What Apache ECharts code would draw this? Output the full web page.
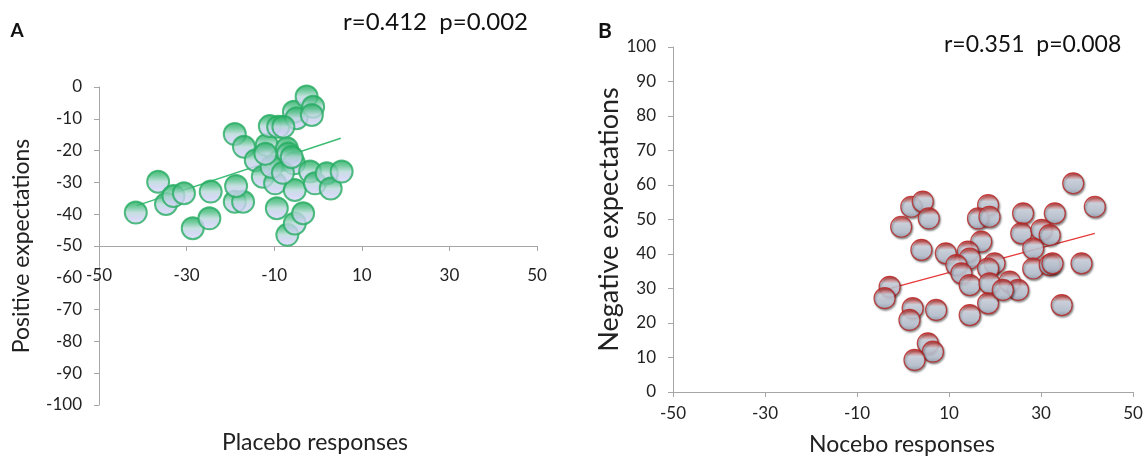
<!DOCTYPE html>
<html>
<head>
<meta charset="utf-8">
<script src="https://cdn.jsdelivr.net/npm/echarts@6/dist/echarts.min.js"></script>
<style>
html,body{margin:0;padding:0;background:#fff;}
#chart{width:1146px;height:462px;}
</style>
</head>
<body>
<div id="chart"></div>
<script>
// Panel A: placebo responses vs positive expectations
const placeboX = [-41.6,-36.5,-34.7,-33.0,-30.6,-28.6,-24.8,-24.5,-19.0,-17.1,-18.7,-19.0,-16.9,-14.2,-12.6,-11.7,-11.0,-9.1,-9.8,-9.4,-8.7,-7.1,-6.8,-5.5,-5.3,-7.0,-5.3,-3.4,-5.5,-4.9,-2.6,-1.1,-1.4,-1.8,-0.7,2.0,2.9,5.4,-10.6,-7.9,-12.0,-8.0,-6.0];
const positiveExp = [-39.5,-29.8,-36.8,-34.3,-33.4,-44.4,-41.3,-32.9,-36.1,-36.1,-31.1,-14.8,-18.8,-23.0,-28.2,-18.2,-12.3,-12.5,-30.3,-38.1,-23.0,-19.3,-20.9,-24.0,-32.4,-46.5,-42.9,-39.7,-7.8,-9.8,-3.0,-6.2,-8.8,-26.6,-30.3,-27.1,-31.9,-26.6,-25.1,-12.5,-21.0,-27.0,-22.0];
const fitAX = [-41.4, 5.2];
const fitAY = [-37.3, -16.1];

// Panel B: nocebo responses vs negative expectations
const noceboX = [37.0,41.7,1.8,4.3,-0.4,5.6,18.5,16.3,18.8,26.1,33.0,17.0,4.0,25.7,30.1,31.9,28.3,9.3,14.1,14.5,19.9,11.6,12.7,28.3,31.9,32.5,38.8,18.5,-2.9,-4.0,14.5,18.8,23.2,25.0,2.1,1.4,7.2,14.5,18.5,34.5,5.4,6.5,2.5,21.7];
const negativeExp = [60.5,53.7,53.7,55.2,47.9,50.3,54.2,50.3,50.8,51.8,51.8,43.6,41.2,46.0,47.0,45.5,41.6,40.2,40.7,38.7,37.3,36.8,34.4,35.8,36.8,37.3,37.3,35.8,30.5,27.2,31.0,31.5,32.0,29.6,24.3,20.9,23.8,22.3,25.7,25.2,14.1,11.7,9.3,29.6];
const fitBX = [-4.0, 41.7];
const fitBY = [29.6, 46.0];

const labelA = 'A', labelB = 'B';
const statsA = 'r=0.412  p=0.002';
const statsB = 'r=0.351  p=0.008';
const xNameA = 'Placebo responses', yNameA = 'Positive expectations';
const xNameB = 'Nocebo responses', yNameB = 'Negative expectations';

const zip = (a, b) => a.map((v, i) => [v, b[i]]);
const FONT = 'Lato, "Open Sans", sans-serif';
const axisGray = '#a6a6a6';

const chart = echarts.init(document.getElementById('chart'), null, {renderer: 'canvas'});

const lbl = (margin) => ({color: '#222', fontFamily: FONT, fontSize: 17, margin: margin});
const axisCommon = {
  axisLine: {show: true, onZero: false, lineStyle: {color: axisGray, width: 1}},
  axisTick: {show: true, length: 5, lineStyle: {color: axisGray}},
  splitLine: {show: false}
};

const greenBall = {
  color: new echarts.graphic.LinearGradient(0, 0, 0, 1, [
    {offset: 0, color: '#12a553'},
    {offset: 0.25, color: '#4fbf84'},
    {offset: 0.5, color: '#b6d8d8'},
    {offset: 0.7, color: '#c9cfef'},
    {offset: 1, color: '#d6daf6'}
  ]),
  borderColor: '#27ad63',
  borderWidth: 2
};

const redBall = {
  color: new echarts.graphic.LinearGradient(0, 0, 0, 1, [
    {offset: 0, color: '#dc1a1a'},
    {offset: 0.16, color: '#e27070'},
    {offset: 0.34, color: '#d6dde9'},
    {offset: 0.75, color: '#c0cadb'},
    {offset: 1, color: '#939cad'}
  ]),
  borderColor: '#b82222',
  borderWidth: 1.2,
  shadowColor: 'rgba(0,0,0,0.5)',
  shadowBlur: 2,
  shadowOffsetX: 1,
  shadowOffsetY: 1.5
};

chart.setOption({
  animation: false,
  backgroundColor: '#fff',
  grid: [
    {left: 99, top: 87, width: 438, height: 318},
    {left: 673, top: 47, width: 460, height: 345}
  ],
  xAxis: [
    Object.assign({}, axisCommon, {
      gridIndex: 0, type: 'value', min: -50, max: 50, interval: 20,
      position: 'bottom', offset: -159, axisLabel: lbl(21)
    }),
    Object.assign({}, axisCommon, {
      gridIndex: 1, type: 'value', min: -50, max: 50, interval: 20,
      position: 'bottom', axisLabel: lbl(13)
    })
  ],
  yAxis: [
    Object.assign({}, axisCommon, {
      gridIndex: 0, type: 'value', min: -100, max: 0, interval: 10,
      name: yNameA, nameLocation: 'middle', nameGap: 66, nameRotate: 90,
      nameTextStyle: {fontFamily: FONT, fontSize: 23, color: '#222'},
      axisLabel: lbl(17)
    }),
    Object.assign({}, axisCommon, {
      gridIndex: 1, type: 'value', min: 0, max: 100, interval: 10,
      name: yNameB, nameLocation: 'middle', nameGap: 41, nameRotate: 90,
      nameTextStyle: {fontFamily: FONT, fontSize: 27, color: '#222'},
      axisLabel: lbl(17)
    })
  ],
  graphic: [
    {type: 'text', x: 17, y: 31, style: {text: labelA, font: 'bold 19px ' + FONT, fill: '#111', align: 'center', verticalAlign: 'middle'}},
    {type: 'text', x: 605, y: 31, style: {text: labelB, font: 'bold 21px ' + FONT, fill: '#111', align: 'center', verticalAlign: 'middle'}},
    {type: 'text', x: 343, y: 22, style: {text: statsA, font: '24px ' + FONT, fill: '#111', align: 'left', verticalAlign: 'middle'}},
    {type: 'text', x: 944, y: 45, style: {text: statsB, font: '23px ' + FONT, fill: '#111', align: 'left', verticalAlign: 'middle'}},
    {type: 'text', x: 315, y: 443, style: {text: xNameA, font: '23px ' + FONT, fill: '#222', align: 'center', verticalAlign: 'middle'}},
    {type: 'text', x: 902, y: 445, style: {text: xNameB, font: '23px ' + FONT, fill: '#222', align: 'center', verticalAlign: 'middle'}}
  ],
  series: [
    {type: 'line', xAxisIndex: 0, yAxisIndex: 0, data: zip(fitAX, fitAY), symbol: 'none', lineStyle: {color: '#3cbc74', width: 1.5}, z: 1},
    {type: 'scatter', xAxisIndex: 0, yAxisIndex: 0, data: zip(placeboX, positiveExp), symbolSize: 22, itemStyle: greenBall, z: 2},
    {type: 'line', xAxisIndex: 1, yAxisIndex: 1, data: zip(fitBX, fitBY), symbol: 'none', lineStyle: {color: '#e63a3a', width: 1.3}, z: 1},
    {type: 'scatter', xAxisIndex: 1, yAxisIndex: 1, data: zip(noceboX, negativeExp), symbolSize: 21, itemStyle: redBall, z: 2}
  ]
});
</script>
</body>
</html>
